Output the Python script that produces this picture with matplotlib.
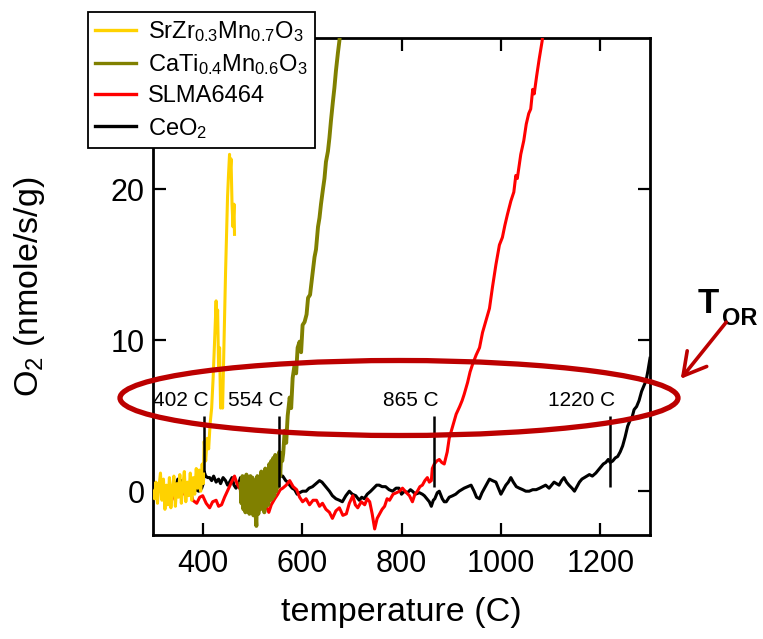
import matplotlib
matplotlib.use("Agg")
import matplotlib.pyplot as plt
from matplotlib.patches import Ellipse, FancyArrowPatch
from matplotlib.lines import Line2D

plt.rcParams['font.family'] = ['Liberation Sans', 'DejaVu Sans']
plt.rcParams['mathtext.fontset'] = 'custom'
plt.rcParams['mathtext.rm'] = 'Liberation Sans'
plt.rcParams['mathtext.it'] = 'Liberation Sans:italic'
plt.rcParams['mathtext.bf'] = 'Liberation Sans:bold'

# ---------------- data ----------------
labels = [r'SrZr$_{0.3}$Mn$_{0.7}$O$_3$', r'CaTi$_{0.4}$Mn$_{0.6}$O$_3$', 'SLMA6464', r'CeO$_2$']
colors = ['#FFD200', '#808000', '#FF0000', '#000000']

srzr_T = [300, 303, 306, 309, 312, 315, 318, 321, 324, 327, 330, 333, 336, 339, 342, 345, 348, 351,
          354, 357, 360, 363, 366, 369, 372, 375, 378, 381, 384, 387, 390, 393, 396, 399, 401, 403,
          406, 409, 412, 415, 418, 421, 424, 427, 428, 430, 432, 434, 436, 438, 440, 442, 444, 446,
          448, 450, 452, 454, 455, 457, 459, 461, 463, 464]
srzr_v = [0.0, -0.5, 0.6, -0.8, 0.3, 1.2, -0.6, 0.8, -1.2, 0.4, -0.9, 0.9, -1.1, 0.2, 1.0, -1.0, 0.5, -0.4,
          1.1, -0.8, 0.3, 1.3, -0.7, 0.6, -0.3, 1.2, -0.6, 0.9, -0.2, 1.5, 0.2, 1.4, 0.0, 1.8, 0.5, 3.3,
          2.0, 3.5, 2.8, 4.5, 5.5, 7.5, 10.0, 12.6, 10.5, 12.0, 8.0, 9.5, 5.5, 7.0, 5.5, 8.5, 11.5, 14.5,
          17.0, 19.5, 21.0, 22.3, 21.0, 22.0, 19.0, 17.5, 19.0, 17.0]

cati_T = [476, 478, 480, 482, 484, 486, 488, 490, 492, 494, 496, 498, 500, 502, 504, 506, 508, 510,
          512, 514, 516, 518, 520, 522, 524, 526, 528, 530, 532, 534, 536, 538, 540, 542, 544, 546,
          548, 550, 552, 554, 556, 558, 560, 562, 565, 568, 571, 575, 578, 581, 585, 588, 591, 595,
          598, 601, 605, 609, 612, 616, 621, 625, 628, 632, 635, 638, 642, 645, 648, 652, 655, 658,
          662, 665, 668, 672, 675, 678]
cati_v = [0.5, -0.8, 1.0, -1.2, 0.8, -1.4, 1.1, -1.0, 0.6, -1.5, 1.0, -1.2, 0.9, -1.6, 0.7, -1.3, -2.3, 1.0,
          -1.5, 0.8, -1.2, 1.3, -1.0, 1.0, -1.4, 1.5, -1.0, 1.2, -0.9, 1.8, -0.6, 2.0, -0.5, 2.2, -0.3, 2.4,
          0.0, 2.0, 0.3, 2.6, 1.0, 2.5, 2.0, 2.5, 4.0, 3.2, 5.0, 6.2, 5.5, 7.5, 8.4, 7.8, 9.5, 9.9,
          9.2, 11.0, 11.2, 11.7, 12.8, 13.0, 14.4, 15.5, 16.0, 17.5, 18.1, 19.0, 20.0, 20.7, 21.8, 22.5, 23.4, 24.5,
          25.8, 26.7, 27.8, 29.0, 29.8, 31.0]

slma_T = [310, 318, 324, 330, 334, 340, 346, 352, 358, 363, 368, 374, 380, 388, 394, 400, 407, 414,
          420, 427, 432, 438, 444, 451, 458, 464, 469, 474, 481, 488, 494, 501, 510, 515, 521, 528,
          533, 538, 545, 551, 556, 561, 568, 575, 582, 589, 595, 601, 608, 615, 622, 629, 635, 641,
          648, 655, 661, 668, 675, 682, 689, 695, 702, 707, 712, 719, 726, 731, 736, 741, 746, 751,
          756, 761, 766, 771, 776, 783, 790, 796, 802, 810, 816, 822, 827, 832, 837, 842, 847, 852,
          856, 860, 862, 866, 871, 876, 881, 886, 892, 896, 903, 910, 917, 922, 926, 933, 938, 943,
          950, 957, 963, 970, 977, 983, 990, 997, 1003, 1008, 1013, 1020, 1026, 1030, 1033, 1040, 1046, 1051,
          1056, 1060, 1064, 1067, 1072, 1077, 1083, 1086]
slma_v = [0.0, 0.2, -0.5, -0.2, -0.9, -0.4, 0.1, -0.3, 0.3, -0.2, -0.1, 0.2, -0.6, -0.8, -0.4, -0.3, -0.8, -1.1,
          -0.7, -0.6, -1.0, -0.9, -0.4, 0.1, 0.6, 1.0, 0.5, 0.2, -0.1, -0.3, -0.7, -0.9, -1.3, -0.9, -1.2, -1.0,
          -1.4, -0.9, -0.5, -0.2, 0.1, 0.2, 0.4, 0.7, 0.3, 0.1, -0.4, -0.7, -0.5, -0.9, -0.6, -0.6, -1.0, -0.8,
          -1.2, -1.4, -1.8, -1.3, -1.1, -1.6, -1.5, -0.8, -0.3, -0.9, -1.1, -0.7, -0.9, -0.5, -0.7, -1.5, -2.5, -1.8,
          -1.5, -1.2, -1.0, -0.5, -0.6, -0.2, -0.1, 0.0, 0.2, -0.1, -0.3, -0.7, -0.2, 0.0, 0.3, 0.4, 0.7, 0.9,
          0.6, 0.7, 1.5, 1.8, 2.0, 2.1, 1.9, 1.8, 2.6, 3.5, 4.3, 5.1, 5.6, 6.0, 6.4, 7.2, 7.9, 8.4,
          9.0, 9.5, 10.5, 11.3, 12.1, 13.5, 15.0, 16.3, 16.8, 17.6, 18.3, 19.2, 19.8, 20.9, 20.7, 22.3, 23.2, 24.3,
          25.0, 25.3, 26.6, 26.3, 27.5, 28.6, 29.8, 31.0]

ceo2_T = [345, 350, 356, 362, 368, 374, 380, 386, 392, 398, 401, 403, 406, 410, 414, 418, 422, 427,
          432, 436, 441, 446, 450, 454, 459, 463, 467, 472, 476, 481, 486, 491, 496, 501, 506, 511,
          516, 521, 526, 531, 536, 541, 546, 551, 556, 561, 567, 571, 575, 580, 585, 590, 595, 601,
          608, 614, 621, 628, 635, 640, 645, 650, 655, 661, 668, 675, 681, 688, 695, 701, 708, 715,
          720, 725, 731, 738, 744, 750, 755, 761, 768, 775, 782, 789, 795, 800, 806, 812, 818, 822,
          828, 836, 842, 846, 851, 856, 860, 864, 867, 872, 876, 882, 886, 890, 896, 903, 909, 916,
          921, 926, 933, 940, 946, 951, 957, 962, 967, 972, 977, 983, 990, 995, 1000, 1005, 1010, 1015,
          1020, 1025, 1031, 1037, 1044, 1050, 1057, 1064, 1071, 1078, 1084, 1090, 1097, 1102, 1107, 1112, 1117, 1122,
          1127, 1132, 1137, 1143, 1148, 1153, 1158, 1163, 1168, 1173, 1178, 1184, 1191, 1196, 1201, 1206, 1211, 1216,
          1220, 1225, 1230, 1235, 1240, 1245, 1250, 1255, 1260, 1264, 1268, 1273, 1278, 1283, 1288, 1292, 1296, 1300]
ceo2_v = [0.3, 0.8, 0.7, 0.2, 0.0, 0.3, -0.1, 0.1, 0.0, 0.2, 0.5, 1.3, 1.0, 0.9, 0.9, 0.7, 1.0, 0.6,
          0.8, 0.5, 0.9, 0.7, 0.4, 0.6, 0.9, 0.4, 0.2, 0.5, 0.9, 0.7, 0.5, 0.3, 0.6, 0.4, 0.1, 0.3,
          0.6, 0.4, 0.2, 0.5, 0.7, 0.4, 0.6, 0.8, 1.0, 1.0, 0.7, 0.6, 0.4, 0.2, 0.1, -0.2, -0.1, 0.0,
          0.0, 0.2, 0.3, 0.5, 0.7, 0.6, 0.4, 0.2, 0.0, -0.3, -0.5, -0.6, -0.7, -0.3, 0.0, -0.2, -0.3, -0.6,
          -0.4, -0.5, -0.2, 0.0, 0.2, 0.4, 0.4, 0.3, 0.3, 0.1, 0.0, 0.2, 0.2, -0.2, 0.0, -0.1, 0.1, 0.0,
          -0.2, -0.1, -0.2, -0.3, -0.5, -0.7, -1.0, -0.6, -0.5, -0.1, 0.0, -0.5, -0.7, -0.7, -0.4, -0.3, -0.2, 0.0,
          0.1, 0.2, 0.3, 0.4, 0.0, -0.4, -0.5, -0.1, 0.2, 0.5, 0.8, 0.7, 0.6, 0.2, -0.2, 0.1, 0.4, 0.6,
          0.9, 0.6, 0.3, 0.2, 0.1, 0.0, 0.0, 0.1, 0.1, 0.2, 0.3, 0.4, 0.2, 0.4, 0.6, 0.5, 0.4, 0.7,
          0.9, 0.6, 0.4, 0.2, 0.0, 0.3, 0.6, 0.8, 0.9, 1.0, 1.1, 1.0, 1.2, 1.4, 1.6, 1.8, 1.9, 2.1,
          1.9, 2.0, 2.2, 2.3, 2.6, 3.0, 3.6, 4.3, 4.7, 4.9, 5.4, 5.6, 6.0, 6.6, 7.0, 7.3, 8.0, 8.8]

onset_T = [402, 554, 865, 1220]
onset_labels = ['402 C', '554 C', '865 C', '1220 C']
onset_low = [1.3, 0.3, 0.3, 0.3]
onset_high = [5.0, 5.0, 5.0, 5.0]

x_ticks = [400, 600, 800, 1000, 1200]
y_ticks = [0, 10, 20]

# ---------------- figure ----------------
W, H = 763, 639
fig = plt.figure(figsize=(W / 100, H / 100), dpi=100)
ax = fig.add_axes([153 / W, 1 - 535 / H, (650 - 153) / W, (535 - 38) / H])

lw = 2.2
ax.plot(ceo2_T, ceo2_v, color=colors[3], lw=lw, zorder=2)
ax.plot(slma_T, slma_v, color=colors[2], lw=lw, zorder=3)
ax.plot(cati_T, cati_v, color=colors[1], lw=2.8, zorder=4)
ax.plot(srzr_T, srzr_v, color=colors[0], lw=lw, zorder=5)

for t, lab, lo, hi in zip(onset_T, onset_labels, onset_low, onset_high):
    ax.vlines(t, lo, hi, color='black', lw=1.8, zorder=6)
    ax.text(t + 9, 6.0, lab, ha='right', va='center', fontsize=15, zorder=7)

ax.set_xlim(300, 1300)
ax.set_ylim(-2.9, 30)
ax.set_xticks(x_ticks)
ax.set_yticks(y_ticks)
ax.tick_params(axis='both', direction='in', length=9, width=1.6, labelsize=22,
               top=True, right=True)
ax.tick_params(axis='x', pad=10)
ax.tick_params(axis='y', pad=6)
for s in ax.spines.values():
    s.set_linewidth(2.0)

ax.set_xlabel('temperature (C)', fontsize=24.5)
ax.set_ylabel(r'O$_2$ (nmole/s/g)', fontsize=24.5)
ax.xaxis.set_label_coords(0.5, (535 - 597) / 497)
ax.yaxis.set_label_coords((47 - 153) / 497, 0.5)

handles = [Line2D([], [], color=c, lw=2.4) for c in colors]
leg = ax.legend(handles, labels, loc='upper left', bbox_to_anchor=(88 / W, 1 - 12 / H),
                bbox_transform=fig.transFigure, borderaxespad=0, fontsize=17,
                frameon=True, fancybox=False, framealpha=1, edgecolor='black',
                handlelength=1.75, handletextpad=0.5, labelspacing=0.35, borderpad=0.3)
leg.get_frame().set_linewidth(1.3)
leg.set_zorder(20)

# red ellipse and arrow (figure coordinates)
dark_red = '#BC0000'
ell = Ellipse((399 / W, 1 - 398 / H), 558 / W, 75 / H, transform=fig.transFigure,
              fill=False, edgecolor=dark_red, lw=3.8, zorder=30)
fig.add_artist(ell)
arr = FancyArrowPatch((728 / W, 1 - 320 / H), (679 / W, 1 - 381 / H), transform=fig.transFigure,
                      arrowstyle='->,head_length=0.8,head_width=0.45', mutation_scale=20,
                      color=dark_red, lw=2.6, zorder=30)
fig.add_artist(arr)
fig.text(698 / W, 1 - 313 / H, 'T', fontsize=25, fontweight='bold', va='baseline', ha='left')
fig.text(722 / W, 1 - 325 / H, 'OR', fontsize=17, fontweight='bold', va='baseline', ha='left')

fig.savefig('out.png', dpi=100)
